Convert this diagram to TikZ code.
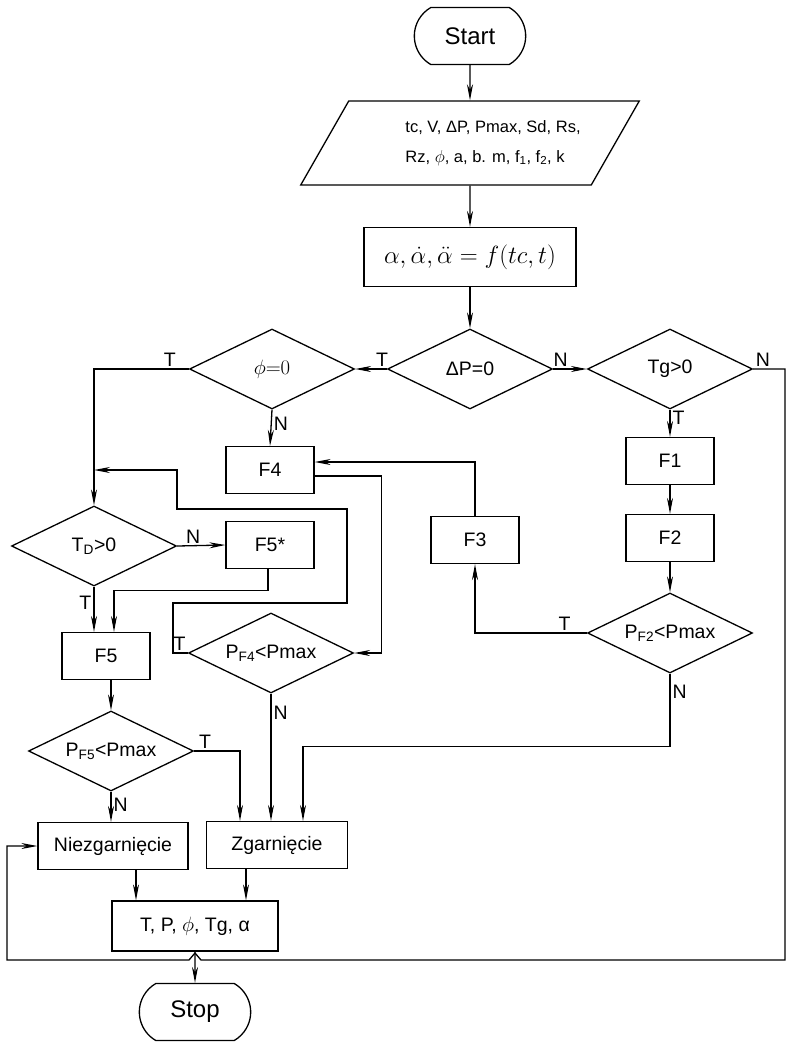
\documentclass[tikz,border=0pt]{standalone}
\usepackage{fontspec}
\setmainfont{Liberation Sans}
\usetikzlibrary{shapes,arrows.meta,positioning,calc}

\newcommand{\lblfont}{\fontsize{19.5}{22}\selectfont}
\newcommand{\inpfont}{\fontsize{16.5}{30}\selectfont}
\newcommand{\termfont}{\fontsize{24}{27}\selectfont}

\tikzset{
  flow/.style={line width=1.3pt, -{Stealth[length=16pt,width=6pt]}},
  procbox/.style={draw, line width=1.3pt, rectangle, minimum width=88pt, minimum height=47pt, inner sep=0pt, font=\lblfont},
  decision/.style={draw, line width=1.3pt, diamond, aspect=2, minimum width=165pt, minimum height=80pt, inner sep=0pt, font=\lblfont},
  terminal/.style={draw, line width=1.3pt, rounded rectangle, rounded rectangle arc length=120, minimum width=118pt, minimum height=57pt, font=\termfont},
  iobox/.style={draw, line width=1.3pt, trapezium, trapezium left angle=46, trapezium right angle=134, trapezium stretches=true, minimum width=339pt, minimum height=84pt, inner sep=0pt, align=left, font=\inpfont},
  tflag/.style={font=\lblfont, inner sep=2pt},
}

\begin{document}
\begin{tikzpicture}[x=1pt, y=-1pt]
    \useasboundingbox (0,0) rectangle (790,1042);

    % main column
    \node[terminal] (start) at (470,36) {Start};
    \node[iobox] (input) at (470,143) {\hspace*{46pt}tc, V, ΔP, Pmax, Sd, Rs,\\\hspace*{46pt}Rz, $\phi$, a, b. m, f\textsubscript{1}, f\textsubscript{2}, k};
    \node[procbox, minimum width=212pt, minimum height=59pt, font=\fontsize{23}{25}\selectfont] (calc) at (470,257) {$\alpha,\dot{\alpha},\ddot{\alpha}=f(tc,t)$};

    % decisions
    \node[decision] (dp) at (470,369) {ΔP=0};
    \node[decision, font=\fontsize{21}{23}\selectfont] (phi) at (272,369) {$\phi{=}0$};
    \node[decision] (tg) at (670,369) {Tg>0};

    \node[procbox] (f4) at (270,470) {F4};
    \node[procbox] (f1) at (670,461) {F1};
    \node[procbox] (f2) at (670,538) {F2};
    \node[procbox] (f3) at (475,540) {F3};
    \node[decision] (pf2) at (670,633) {P\textsubscript{F2}<Pmax};

    \node[decision] (td) at (94,546) {T\textsubscript{D}>0};
    \node[procbox] (f5s) at (270,545) {F5*};
    \node[decision] (pf4) at (271,653) {P\textsubscript{F4}<Pmax};
    \node[procbox] (f5) at (106,656) {F5};
    \node[decision] (pf5) at (111,751) {P\textsubscript{F5}<Pmax};

    % results
    \node[procbox, minimum width=150pt] (niez) at (113,846) {Niezgarnięcie};
    \node[procbox, minimum width=141pt] (zgar) at (277,845) {Zgarnięcie};
    \node[procbox, minimum width=166pt, minimum height=50pt] (out) at (195,926) {T, P, $\phi$, Tg, α};
    \node[terminal] (stop) at (195,1012) {Stop};

    \coordinate (f4in) at ($(f4.east)+(0,-8)$);
    \coordinate (f4out) at ($(f4.east)+(0,6)$);
    \coordinate (rb) at (785,960);
    \coordinate (lb) at (7,960);

    % connectors
    \draw[flow] (start) -- (input);
    \draw[flow] (input) -- (calc);
    \draw[flow] (calc) -- (dp);
    \draw[flow] (dp.west) -- (phi.east) node[tflag, pos=0.15, above] (t1) {T};
    \draw[flow] (dp.east) -- (tg.west) node[tflag, pos=0.22, above] (n1) {N};
    \draw[flow] (tg.south) -- (f1.north) node[tflag, pos=0.3, right] (t2) {T};
    \draw[flow] (f1) -- (f2);
    \draw[flow] (f2) -- (pf2);
    \draw[flow] (pf2.west) -| (f3.south) node[tflag, pos=0.1, above] (t3) {T};
    \draw[flow] (f3.north) |- (f4in);
    \draw[flow] (phi.south) -- (f4.north) node[tflag, pos=0.4, right] (n2) {N};
    \draw[flow] (phi.west) -| (td.north) node[tflag, pos=0.1, above] (t4) {T};
    \draw[flow] (f4out) -- ++(67,0) |- (pf4.east);
    \draw[flow] (pf4.west) -- ++(-15,0) -- ++(0,-50) -- ++(174,0) -- ++(0,-94)
        -- ++(-170,0) |- (td.north |- f4);
    \node[tflag, above left] (t5) at (pf4.west) {T};
    \draw[flow] (td.east) -- (f5s.west) node[tflag, pos=0.33, above] (n3) {N};
    \draw[flow] (td.south) -- (td.south |- f5.north) node[tflag, pos=0.35, left] (t6) {T};
    \draw[flow] ($(f5s.south)+(-2,0)$) -- ++(0,21) -| ($(f5.north)+(8,0)$);
    \draw[flow] (pf5.north |- f5.south) -- (pf5.north);
    \draw[flow] (pf5.south) -- (pf5.south |- niez.north) node[tflag, pos=0.45, right] (n4) {N};
    \draw[flow] (pf5.east) -| ($(zgar.north)+(-37,0)$) node[tflag, pos=0.12, above] (t7) {T};
    \draw[flow] (pf4.south) -- (pf4.south |- zgar.north) node[tflag, pos=0.15, right] (n5) {N};
    \draw[flow] (pf2.south) -- ++(0,73) node[tflag, pos=0.25, right] (n6) {N} -| ($(zgar.north)+(26,0)$);
    \draw[flow] ($(niez.south)+(23,0)$) -- ($(out.north)+(-59,0)$);
    \draw[flow] ($(zgar.south)+(-31,0)$) -- ($(out.north)+(51,0)$);
    \draw[flow] (out) -- (stop);
    \draw[flow] (tg.east) node[tflag, above right] (n7) {N} -| (rb)
        -- ($(out.south |- rb)+(6,0)$) -- ++(-6,-7) -- ++(-6,7) -- (lb) |- (niez.west);
\end{tikzpicture}
\end{document}
